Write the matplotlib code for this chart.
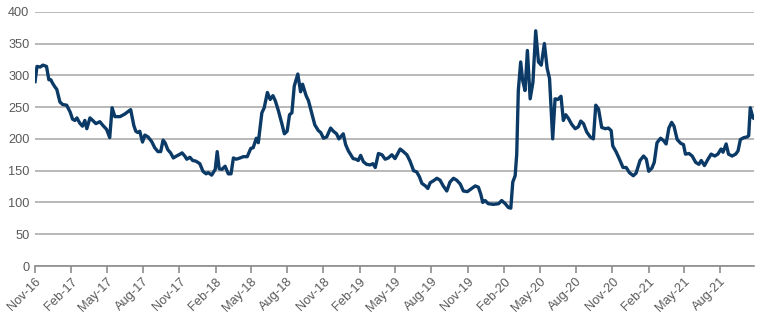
import pandas as pd
import numpy as np
import matplotlib
matplotlib.use("Agg")
import matplotlib.pyplot as plt
import matplotlib.dates as mdates

plt.rcParams['font.family'] = ['Liberation Sans', 'DejaVu Sans']

# values
dates = [
    "2016-11-01", "2016-11-06", "2016-11-14", "2016-11-21", "2016-11-30", "2016-12-06", "2016-12-11",
    "2016-12-15", "2016-12-21", "2016-12-26", "2017-01-03", "2017-01-10", "2017-01-20", "2017-01-29",
    "2017-02-04", "2017-02-10", "2017-02-15", "2017-02-22", "2017-03-01", "2017-03-07", "2017-03-12",
    "2017-03-20", "2017-03-27", "2017-04-04", "2017-04-14", "2017-04-22", "2017-05-01", "2017-05-09",
    "2017-05-15", "2017-05-22", "2017-06-04", "2017-06-16", "2017-07-01", "2017-07-09", "2017-07-14",
    "2017-07-19", "2017-07-24", "2017-07-31", "2017-08-06", "2017-08-14", "2017-08-23", "2017-08-31",
    "2017-09-08", "2017-09-15", "2017-09-21", "2017-09-26", "2017-10-03", "2017-10-10", "2017-10-17",
    "2017-10-25", "2017-11-03", "2017-11-08", "2017-11-15", "2017-11-20", "2017-11-28", "2017-12-05",
    "2017-12-13", "2017-12-23", "2017-12-31", "2018-01-08", "2018-01-13", "2018-01-22", "2018-01-31",
    "2018-02-05", "2018-02-10", "2018-02-17", "2018-02-25", "2018-03-05", "2018-03-12", "2018-03-18",
    "2018-03-25", "2018-04-04", "2018-04-12", "2018-04-22", "2018-05-01", "2018-05-07", "2018-05-15",
    "2018-05-20", "2018-05-29", "2018-06-04", "2018-06-12", "2018-06-19", "2018-06-26", "2018-07-02",
    "2018-07-10", "2018-07-19", "2018-07-25", "2018-08-01", "2018-08-07", "2018-08-13", "2018-08-19",
    "2018-08-28", "2018-09-04", "2018-09-09", "2018-09-18", "2018-09-24", "2018-10-02", "2018-10-10",
    "2018-10-19", "2018-10-25", "2018-11-01", "2018-11-09", "2018-11-19", "2018-11-26", "2018-12-04",
    "2018-12-10", "2018-12-21", "2018-12-27", "2019-01-03", "2019-01-09", "2019-01-15", "2019-01-22",
    "2019-01-28", "2019-02-03", "2019-02-10", "2019-02-18", "2019-02-27", "2019-03-06", "2019-03-12",
    "2019-03-20", "2019-03-29", "2019-04-06", "2019-04-14", "2019-04-23", "2019-05-01", "2019-05-14",
    "2019-05-22", "2019-05-31", "2019-06-08", "2019-06-17", "2019-06-25", "2019-07-02", "2019-07-08",
    "2019-07-17", "2019-07-23", "2019-07-29", "2019-08-06", "2019-08-15", "2019-08-23", "2019-08-31",
    "2019-09-09", "2019-09-17", "2019-09-26", "2019-10-04", "2019-10-13", "2019-10-21", "2019-10-31",
    "2019-11-09", "2019-11-20", "2019-11-28", "2019-12-04", "2019-12-09", "2019-12-15", "2019-12-23",
    "2020-01-05", "2020-01-18", "2020-01-26", "2020-02-04", "2020-02-12", "2020-02-18", "2020-02-23",
    "2020-02-29", "2020-03-04", "2020-03-08", "2020-03-14", "2020-03-19", "2020-03-25", "2020-03-31",
    "2020-04-07", "2020-04-14", "2020-04-21", "2020-04-28", "2020-05-05", "2020-05-13", "2020-05-20",
    "2020-05-26", "2020-06-03", "2020-06-09", "2020-06-16", "2020-06-24", "2020-06-30", "2020-07-06",
    "2020-07-13", "2020-07-21", "2020-07-30", "2020-08-07", "2020-08-13", "2020-08-20", "2020-08-28",
    "2020-09-06", "2020-09-14", "2020-09-20", "2020-09-27", "2020-10-05", "2020-10-14", "2020-10-22",
    "2020-10-29", "2020-11-02", "2020-11-11", "2020-11-19", "2020-11-28", "2020-12-06", "2020-12-14",
    "2020-12-24", "2020-12-31", "2021-01-10", "2021-01-19", "2021-01-26", "2021-02-01", "2021-02-09",
    "2021-02-15", "2021-02-22", "2021-03-03", "2021-03-11", "2021-03-17", "2021-03-24", "2021-03-31",
    "2021-04-06", "2021-04-14", "2021-04-23", "2021-04-30", "2021-05-05", "2021-05-14", "2021-05-22",
    "2021-05-31", "2021-06-08", "2021-06-14", "2021-06-22", "2021-07-01", "2021-07-09", "2021-07-18",
    "2021-07-26", "2021-08-03", "2021-08-08", "2021-08-16", "2021-08-22", "2021-08-31", "2021-09-09",
    "2021-09-15", "2021-09-21", "2021-09-30", "2021-10-08", "2021-10-12", "2021-10-16", "2021-10-23",
    "2021-10-26",
]
values = [
    290, 314, 313, 316, 314, 293, 293,
    288, 282, 278, 258, 254, 253, 242,
    231, 229, 233, 225, 220, 229, 216,
    233, 229, 224, 227, 221, 215, 202,
    249, 235, 235, 239, 246, 221, 212,
    210, 212, 195, 206, 203, 196, 186,
    180, 180, 198, 194, 183, 178, 170,
    173, 176, 178, 173, 168, 171, 166,
    165, 161, 149, 145, 147, 143, 152,
    180, 153, 152, 157, 145, 145, 170,
    168, 170, 172, 172, 185, 186, 201,
    194, 241, 249, 273, 262, 268, 260,
    244, 223, 208, 212, 238, 241, 283,
    302, 274, 286, 268, 260, 241, 222,
    213, 210, 201, 203, 217, 212, 208,
    200, 208, 191, 181, 175, 169, 168,
    166, 174, 164, 160, 159, 161, 155,
    177, 175, 168, 170, 175, 169, 184,
    180, 175, 165, 150, 148, 140, 130,
    126, 122, 131, 134, 138, 135, 126,
    118, 132, 138, 135, 129, 118, 117,
    121, 126, 124, 113, 100, 103, 98,
    97, 98, 103, 98, 92, 91, 132,
    142, 176, 276, 321, 292, 276, 339,
    263, 289, 370, 321, 316, 350, 311,
    295, 200, 263, 262, 267, 229, 238,
    232, 223, 216, 219, 228, 224, 211,
    203, 200, 253, 247, 218, 216, 217,
    213, 189, 179, 168, 155, 155, 147,
    142, 146, 166, 173, 168, 149, 154,
    163, 194, 201, 197, 192, 217, 226,
    220, 199, 193, 191, 176, 177, 173,
    163, 160, 166, 158, 168, 176, 173,
    176, 184, 179, 192, 176, 173, 176,
    181, 199, 202, 203, 205, 249, 233,
    232,
]
yticks = [0, 50, 100, 150, 200, 250, 300, 350, 400]

x = pd.to_datetime(dates)

fig = plt.figure(figsize=(7.7, 3.26), dpi=100)
ax = fig.add_axes([0.0455, 0.184, 0.934, 0.78])

ax.plot(x, values, color='#0b3a66', linewidth=2.4, solid_joinstyle='round', zorder=3)

ax.set_ylim(0, 400)
ax.set_yticks(yticks)
ax.set_xlim(pd.Timestamp("2016-11-01"), x[-1])

ax.xaxis.set_major_locator(mdates.MonthLocator(bymonth=[2, 5, 8, 11]))
ax.xaxis.set_major_formatter(mdates.DateFormatter('%b-%y'))

ax.grid(axis='y', color='#b3b3b3', linewidth=1.3)
ax.set_axisbelow(True)
for s in ['top', 'right', 'left']:
    ax.spines[s].set_visible(False)
ax.spines['bottom'].set_color('#8c8c8c')
ax.spines['bottom'].set_linewidth(1.2)

ax.tick_params(axis='y', length=0, pad=4, labelsize=9.2, labelcolor='#595959')
ax.tick_params(axis='x', length=5, width=1.2, color='#8c8c8c', pad=2,
               labelsize=9.2, labelcolor='#595959')
for lbl in ax.get_xticklabels():
    lbl.set_rotation(45)
    lbl.set_ha('right')
    lbl.set_rotation_mode('anchor')

fig.savefig('out.png', dpi=100)
